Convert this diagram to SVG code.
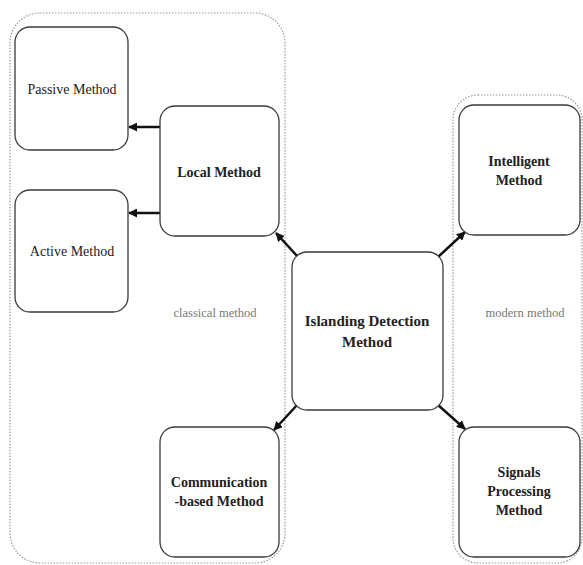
<svg xmlns="http://www.w3.org/2000/svg" width="583" height="565" viewBox="0 0 583 565">
  <style>
    .group { fill: none; stroke: #9a9a9a; stroke-width: 1.2; stroke-dasharray: 1.5 1.5; }
    .box { fill: #fff; stroke: #3a3a3a; stroke-width: 1.3; }
    .t { font-family: "Liberation Serif", "Times New Roman", serif; font-size: 14px; fill: #222; text-anchor: middle; }
    .b { font-weight: bold; }
    .note { font-family: "Liberation Serif", "Times New Roman", serif; font-size: 12.5px; fill: #777; text-anchor: middle; }
    .edge { stroke: #111; stroke-width: 2.5; fill: none; marker-end: url(#head); }
  </style>
  <defs>
    <marker id="head" viewBox="0 0 10 10" refX="9" refY="5" markerWidth="3.6" markerHeight="3.6" orient="auto" markerUnits="strokeWidth">
      <path d="M0,0 L10,5 L0,10 z" fill="#111"/>
    </marker>
  </defs>

  <rect width="583" height="565" fill="#fff"/>

  <!-- grouping frames -->
  <g id="classical">
    <rect class="group" x="10" y="13" width="275" height="550" rx="30"/>
    <text class="note" x="215" y="317">classical method</text>
  </g>
  <g id="modern">
    <rect class="group" x="453" y="95" width="129" height="468" rx="25"/>
    <text class="note" x="525" y="317">modern method</text>
  </g>

  <!-- connectors -->
  <g id="connectors">
    <line class="edge" x1="160" y1="127" x2="129" y2="127"/>
    <line class="edge" x1="160" y1="213" x2="129" y2="213"/>
    <line class="edge" x1="298" y1="257" x2="276" y2="233"/>
    <line class="edge" x1="438" y1="257" x2="465" y2="232"/>
    <line class="edge" x1="298" y1="404" x2="274" y2="430"/>
    <line class="edge" x1="438" y1="405" x2="465" y2="429"/>
  </g>

  <g id="passive">
    <rect class="box" x="15" y="27" width="113" height="123" rx="15"/>
    <text class="t" x="72" y="94">Passive Method</text>
  </g>
  <g id="active">
    <rect class="box" x="15" y="190" width="113" height="122" rx="15"/>
    <text class="t" x="72" y="256">Active Method</text>
  </g>
  <g id="local">
    <rect class="box" x="160" y="106" width="119" height="130" rx="15"/>
    <text class="t b" x="219" y="177">Local Method</text>
  </g>
  <g id="communication">
    <rect class="box" x="160" y="427" width="119" height="130" rx="15"/>
    <text class="t b" x="219" y="487">Communication</text>
    <text class="t b" x="219" y="506">-based Method</text>
  </g>
  <g id="islanding">
    <rect class="box" x="292" y="252" width="151" height="158" rx="15"/>
    <text class="t b" x="367" y="326" style="font-size:15px">Islanding Detection</text>
    <text class="t b" x="367" y="347" style="font-size:15px">Method</text>
  </g>
  <g id="intelligent">
    <rect class="box" x="459" y="105" width="121" height="130" rx="15"/>
    <text class="t b" x="519" y="166">Intelligent</text>
    <text class="t b" x="519" y="185">Method</text>
  </g>
  <g id="signals">
    <rect class="box" x="459" y="427" width="121" height="130" rx="15"/>
    <text class="t b" x="519" y="477">Signals</text>
    <text class="t b" x="519" y="496">Processing</text>
    <text class="t b" x="519" y="515">Method</text>
  </g>
</svg>
